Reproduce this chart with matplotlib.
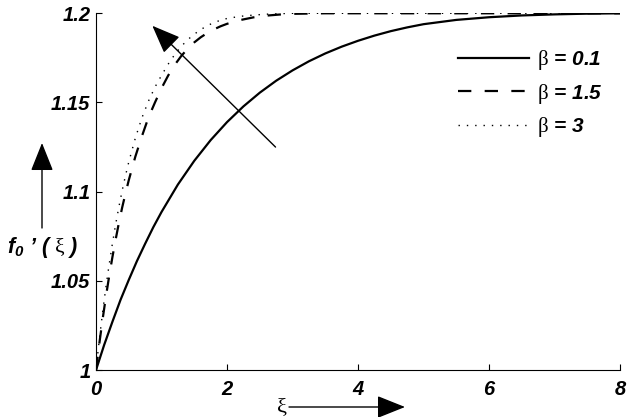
import numpy as np
import matplotlib
import matplotlib.pyplot as plt

matplotlib.use("Agg")

plt.rcParams['font.family'] = ['Liberation Sans', 'DejaVu Sans']
plt.rcParams['mathtext.fontset'] = 'custom'
plt.rcParams['mathtext.rm'] = 'Liberation Serif'
plt.rcParams['mathtext.it'] = 'Liberation Sans:italic'
plt.rcParams['mathtext.bf'] = 'Liberation Sans:bold'
plt.rcParams['mathtext.bfit'] = 'Liberation Sans:italic:bold'

# curves
xi_01 = [0, 0.125, 0.25, 0.375, 0.5, 0.625, 0.75, 0.875, 1, 1.25, 1.5, 1.75, 2,
         2.25, 2.5, 2.75, 3, 3.25, 3.5, 3.75, 4, 4.25, 4.5, 4.75, 5, 5.5, 6,
         6.5, 7, 7.5, 8]
f_01 = [1.0, 1.0141, 1.027, 1.0394, 1.0505, 1.0611, 1.0708, 1.0801, 1.0886, 1.104,
        1.1173, 1.1289, 1.139, 1.1478, 1.1555, 1.1622, 1.168, 1.1731, 1.1775,
        1.1813, 1.1846, 1.1875, 1.19, 1.1921, 1.1939, 1.1963, 1.1978, 1.1988,
        1.1994, 1.1998, 1.2]

xi_15 = [0, 0.05, 0.1, 0.15, 0.2, 0.25, 0.3, 0.35, 0.4, 0.45, 0.5, 0.6, 0.7, 0.8,
         0.9, 1.0, 1.1, 1.2, 1.3, 1.4, 1.5, 1.6, 1.7, 1.8, 1.9, 2.0, 2.2, 2.4,
         2.6, 2.8, 3.0, 3.5, 4, 5, 6, 7, 8]
f_15 = [1.0, 1.0146, 1.0282, 1.0408, 1.0524, 1.0632, 1.0732, 1.0826, 1.0912, 1.099,
        1.1064, 1.1196, 1.131, 1.1415, 1.150, 1.158, 1.165, 1.171, 1.176, 1.1802,
        1.1837, 1.1866, 1.189, 1.191, 1.1927, 1.1941, 1.1962, 1.1977, 1.1987,
        1.1993, 1.1997, 1.2, 1.2, 1.2, 1.2, 1.2, 1.2]

xi_3 = [0, 0.05, 0.1, 0.15, 0.2, 0.25, 0.3, 0.35, 0.4, 0.45, 0.5, 0.6, 0.7, 0.8,
        0.9, 1.0, 1.1, 1.2, 1.3, 1.4, 1.5, 1.6, 1.7, 1.8, 1.9, 2.0, 2.2, 2.4,
        2.6, 2.8, 3.0, 3.5, 4, 5, 6, 7, 8]
f_3 = [1.0, 1.0168, 1.0321, 1.0462, 1.059, 1.0708, 1.0817, 1.0916, 1.1007, 1.109,
       1.1166, 1.130, 1.1413, 1.1507, 1.1586, 1.1652, 1.1714, 1.1768, 1.1814,
       1.1852, 1.1883, 1.1909, 1.1931, 1.1948, 1.1961, 1.1971, 1.1983, 1.199,
       1.1995, 1.1998, 1.2, 1.2, 1.2, 1.2, 1.2, 1.2, 1.2]

xticks = [0, 2, 4, 6, 8]
yticks = [1, 1.05, 1.1, 1.15, 1.2]
ytick_labels = ['1', '1.05', '1.1', '1.15', '1.2']

fig = plt.figure(figsize=(6.4, 4.17), dpi=100)
ax = fig.add_axes([0.15, 0.1127, 0.819, 0.8554])

ax.plot(xi_01, f_01, color='black', lw=1.6, label=r'$\mathrm{\beta}$ = 0.1')
ax.plot(xi_15, f_15, color='black', lw=1.6, linestyle=(0, (6, 6)),
        label=r'$\mathrm{\beta}$ = 1.5')
ax.plot(xi_3, f_3, color='black', lw=1.0, linestyle=(0, (1, 5)),
        label=r'$\mathrm{\beta}$ = 3')

ax.set_xlim(0, 8)
ax.set_ylim(1, 1.2)
ax.set_xticks(xticks)
ax.set_yticks(yticks)
ax.set_yticklabels(ytick_labels)
ax.spines['top'].set_visible(False)
ax.spines['right'].set_visible(False)
for s in ['left', 'bottom']:
    ax.spines[s].set_linewidth(0.8)
ax.tick_params(axis='both', direction='in', length=4, width=0.8)
ax.tick_params(axis='x', pad=7)
ax.tick_params(axis='y', pad=4)
for lab in ax.get_xticklabels() + ax.get_yticklabels():
    lab.set_fontsize(14.5)
    lab.set_fontweight('bold')
    lab.set_fontstyle('italic')

leg = ax.legend(loc='upper left', bbox_to_anchor=(0.691, 0.902), frameon=False,
                borderpad=0, borderaxespad=0, handlelength=3.4, handletextpad=0.4,
                labelspacing=0.45,
                prop={'size': 15, 'weight': 'bold', 'style': 'italic'})

head = '-|>,head_length=0.8,head_width=0.32'

# arrow inside the plot
ax.annotate('', xy=(0.86, 1.193), xytext=(2.74, 1.125),
            arrowprops=dict(arrowstyle=head, color='black', lw=1.0,
                            mutation_scale=22, shrinkA=0, shrinkB=0))

# axis labels with arrows (figure pixels)
fig.text(43 / 640, 1 - 247 / 417,
         r"$\mathbfit{f}_{\mathbfit{0}}$ ’ ( $\mathrm{\xi}$ )",
         fontsize=15.5, fontweight='bold', fontstyle='italic',
         ha='center', va='center')
ax.annotate('', xy=(42, 417 - 143), xytext=(42, 417 - 228),
            xycoords='figure pixels', textcoords='figure pixels',
            arrowprops=dict(arrowstyle=head, color='black', lw=1.0,
                            mutation_scale=22, shrinkA=0, shrinkB=0))

fig.text(282 / 640, 1 - 407 / 417, r'$\mathrm{\xi}$', fontsize=16,
         ha='center', va='center')
ax.annotate('', xy=(405, 417 - 407), xytext=(289, 417 - 407),
            xycoords='figure pixels', textcoords='figure pixels',
            arrowprops=dict(arrowstyle=head, color='black', lw=1.0,
                            mutation_scale=22, shrinkA=0, shrinkB=0))

plt.savefig('out.png', dpi=100, facecolor='white')
plt.close()
